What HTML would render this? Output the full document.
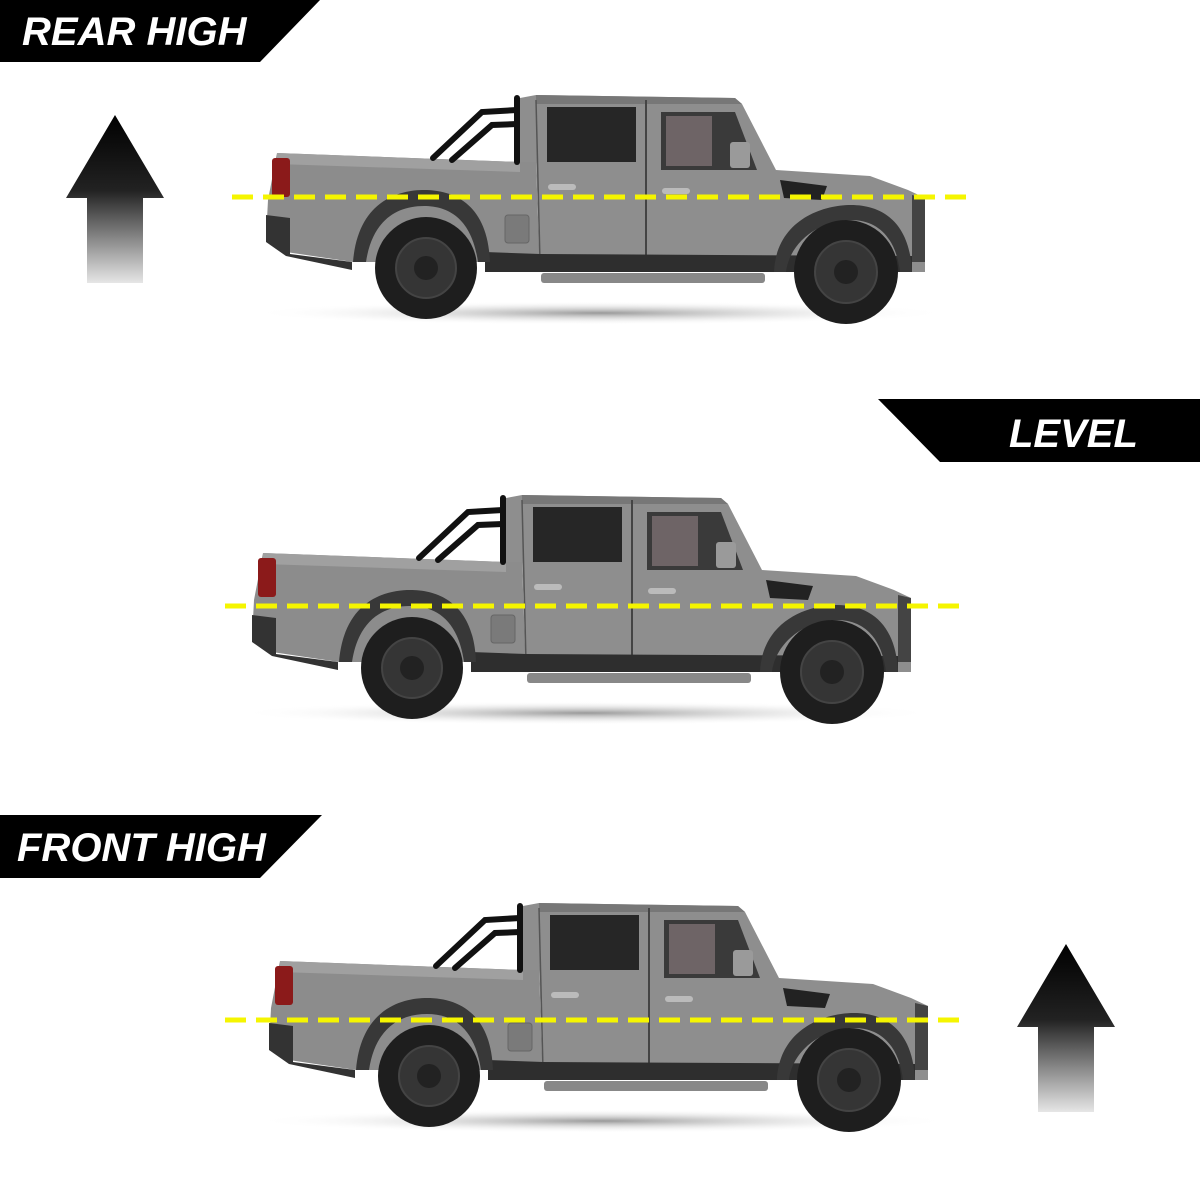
<!DOCTYPE html>
<html><head><meta charset="utf-8"><style>
html,body{margin:0;padding:0;background:#fff;}
svg{display:block}
text{font-family:"Liberation Sans",sans-serif;font-weight:bold;font-style:italic;fill:#fff}
</style></head><body>
<svg width="1200" height="1200" viewBox="0 0 1200 1200" xmlns="http://www.w3.org/2000/svg">
<defs>
<linearGradient id="ag" x1="0" y1="0" x2="0" y2="1">
<stop offset="0" stop-color="#000"/><stop offset="0.45" stop-color="#222"/><stop offset="1" stop-color="#e6e6e6"/>
</linearGradient>
<radialGradient id="sh" cx="0.5" cy="0.5" r="0.5">
<stop offset="0" stop-color="#555" stop-opacity="0.6"/><stop offset="1" stop-color="#fff" stop-opacity="0"/>
</radialGradient>
<g id="truck">
<ellipse cx="600" cy="313" rx="350" ry="12" fill="url(#sh)"/>
<path d="M277,153 L520,162 L536,162 L540,272 L485,262 L353,262 L286,252 L266,238 L268,200 Z" fill="#8c8c8c"/>
<path d="M277,153 L520,162 L520,172 L277,164 Z" fill="#a0a0a0"/>
<path d="M266,215 L290,218 L290,254 L352,262 L352,270 L286,256 L266,242 Z" fill="#333"/>
<rect x="272" y="158" width="18" height="39" rx="3" fill="#8b1a1a"/>
<path d="M520,98 L536,95 L735,98 L742,104 L776,170 L870,176 L908,190 L925,198 L925,272 L540,272 L536,162 L520,162 Z" fill="#8e8e8e"/>
<path d="M536,95 L735,98 L742,104 L536,104 Z" fill="#777"/>
<path d="M912,195 L925,198 L925,262 L912,262 Z" fill="#444"/>
<rect x="547" y="107" width="89" height="55" fill="#262626"/>
<path d="M661,112 L735,112 L757,170 L661,170 Z" fill="#3a3a3a"/>
<path d="M666,116 L712,116 L712,166 L666,166 Z" fill="#6e6466"/>
<rect x="730" y="142" width="20" height="26" rx="3" fill="#9a9a9a"/>
<line x1="646" y1="100" x2="646" y2="262" stroke="#444" stroke-width="2"/>
<line x1="536" y1="100" x2="540" y2="262" stroke="#555" stroke-width="1.5"/>
<rect x="548" y="184" width="28" height="6" rx="3" fill="#bbb"/>
<rect x="662" y="188" width="28" height="6" rx="3" fill="#bbb"/>
<path d="M780,180 L827,186 L822,200 L784,198 Z" fill="#222"/>
<path d="M485,252 L540,254 L912,256 L912,272 L485,272 Z" fill="#2e2e2e"/>
<rect x="541" y="273" width="224" height="10" rx="3" fill="#888"/>
<path d="M353,262 C358,200 400,190 424,190 C455,190 488,205 490,262 L478,262 C472,220 450,206 424,206 C395,206 372,222 366,262 Z" fill="#383838"/>
<path d="M774,272 C776,222 820,205 851,205 C885,205 910,225 912,272 L900,272 C896,238 878,220 851,220 C822,220 790,240 786,272 Z" fill="#383838"/>
<rect x="505" y="215" width="24" height="28" rx="3" fill="#7a7a7a" stroke="#666"/>
<g>
<circle cx="426" cy="268" r="51" fill="#1e1e1e"/>
<circle cx="426" cy="268" r="30" fill="#353535" stroke="#444" stroke-width="2"/>
<circle cx="426" cy="268" r="12" fill="#222"/>
<circle cx="846" cy="272" r="52" fill="#1e1e1e"/>
<circle cx="846" cy="272" r="31" fill="#353535" stroke="#444" stroke-width="2"/>
<circle cx="846" cy="272" r="12" fill="#222"/>
</g>
<g fill="none" stroke="#111" stroke-width="6" stroke-linecap="round">
<path d="M433,158 L482,112 L517,110"/>
<path d="M452,160 L492,125 L517,124"/>
<path d="M517,98 L517,162"/>
</g>
</g>
</defs>

<polygon points="0,0 320,0 260,62 0,62" fill="#000"/>
<text x="22" y="45" font-size="40">REAR HIGH</text>
<polygon points="878,399 1200,399 1200,462 940,462" fill="#000"/>
<text x="1009" y="447" font-size="40">LEVEL</text>
<polygon points="0,815 322,815 260,878 0,878" fill="#000"/>
<text x="17" y="861" font-size="40">FRONT HIGH</text>

<polygon points="115,115 164,198 143,198 143,283 87,283 87,198 66,198" fill="url(#ag)"/>
<polygon points="1066,944 1115,1027 1094,1027 1094,1112 1038,1112 1038,1027 1017,1027" fill="url(#ag)"/>

<use href="#truck"/>
<use href="#truck" transform="translate(-14,400)"/>
<use href="#truck" transform="translate(3,808)"/>

<g stroke="#f5f500" stroke-width="5" stroke-dasharray="21,10">
<line x1="232" y1="197" x2="972" y2="197"/>
<line x1="225" y1="606" x2="965" y2="606"/>
<line x1="225" y1="1020" x2="965" y2="1020"/>
</g>
</svg>
</body></html>
